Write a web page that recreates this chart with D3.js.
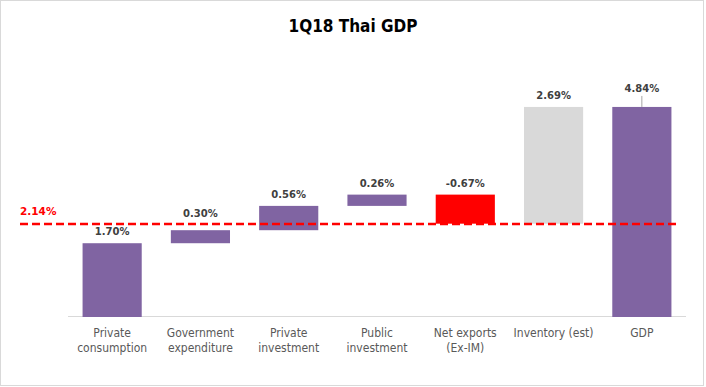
<!DOCTYPE html>
<html>
<head>
<meta charset="utf-8">
<script src="https://cdn.jsdelivr.net/npm/d3@7"></script>
<style>
  body { margin: 0; background: #fff; }
  svg { display: block; }
</style>
</head>
<body>
<div id="chart"></div>
<script>
'use strict';

// Data
var categories = ['Private\nconsumption', 'Government\nexpenditure', 'Private\ninvestment',
  'Public\ninvestment', 'Net exports\n(Ex-IM)', 'Inventory (est)', 'GDP'];
var contributions = [1.70, 0.30, 0.56, 0.26, -0.67, 2.69, 4.84];
var isTotal = [false, false, false, false, false, false, true];
var isEstimate = [false, false, false, false, false, true, false];
var referenceValue = 2.14;
var title = '1Q18 Thai GDP';

var width = 706,
  height = 387,
  font = "'DejaVu Sans Condensed', 'DejaVu Sans', sans-serif",
  labelFont = "'DejaVu Sans', sans-serif";

// Build waterfall steps
var running = 0;
var data = categories.map(function (c, i) {
  var v = contributions[i], start, end;
  if (isTotal[i]) {
    start = 0;
    end = v;
  } else {
    start = running;
    end = running + v;
    running = end;
  }
  return {name: c, value: v, start: start, end: end, total: isTotal[i], est: isEstimate[i]};
});

var svg = d3.select('#chart').append('svg')
  .attr('width', width)
  .attr('height', height);

// Outer frame
svg.append('rect')
  .attr('x', 0.5).attr('y', 0.5)
  .attr('width', width - 3).attr('height', height - 2)
  .style('fill', 'none')
  .style('stroke', '#d9d9d9');

// Scales
var x = d3.scaleBand()
  .domain(categories)
  .range([68, 686])
  .paddingInner(0.33)
  .paddingOuter(0.165);

var y = d3.scaleLinear()
  .domain([0, 5])
  .range([317, 100]);

var yRef = y(referenceValue);

// Title
svg.append('text')
  .attr('x', width / 2)
  .attr('y', 32)
  .attr('text-anchor', 'middle')
  .style('font-family', font)
  .style('font-weight', 'bold')
  .style('font-size', '17px')
  .style('fill', '#000')
  .text(title);

// Baseline
svg.append('line')
  .attr('x1', x.range()[0]).attr('x2', x.range()[1])
  .attr('y1', y(0) - 0.5).attr('y2', y(0) - 0.5)
  .style('stroke', '#d9d9d9');

function barColor(d) {
  if (d.est) { return '#d9d9d9'; }
  if (d.value < 0) { return '#ff0000'; }
  return '#8064a2';
}

// Bars
svg.selectAll('.bar').data(data)
  .enter().append('rect')
  .attr('class', 'bar')
  .attr('x', function (d) { return x(d.name); })
  .attr('width', x.bandwidth())
  .attr('y', function (d) { return y(Math.max(d.start, d.end)); })
  .attr('height', function (d) { return Math.abs(y(d.start) - y(d.end)); })
  .style('fill', barColor);

// Reference line
svg.append('line')
  .attr('x1', 20).attr('x2', 680)
  .attr('y1', yRef).attr('y2', yRef)
  .style('stroke', '#ff0000')
  .style('stroke-width', 2.5)
  .style('stroke-dasharray', '8,4');

svg.append('text')
  .attr('x', 20)
  .attr('y', yRef - 9)
  .style('font-family', labelFont)
  .style('font-weight', 'bold')
  .style('font-size', '10.5px')
  .style('fill', '#ff0000')
  .text(referenceValue.toFixed(2) + '%');

// Leader line for total
svg.selectAll('.leader').data(data.filter(function (d) { return d.total; }))
  .enter().append('line')
  .attr('class', 'leader')
  .attr('x1', function (d) { return x(d.name) + x.bandwidth() / 2; })
  .attr('x2', function (d) { return x(d.name) + x.bandwidth() / 2; })
  .attr('y1', function (d) { return y(d.end); })
  .attr('y2', function (d) { return y(d.end) - 11; })
  .style('stroke', '#a6a6a6')
  .style('stroke-width', 1);

// Value labels (lifted above the reference line when they would cross it)
svg.selectAll('.ann').data(data)
  .enter().append('text')
  .attr('class', 'ann')
  .attr('x', function (d) { return x(d.name) + x.bandwidth() / 2; })
  .attr('y', function (d) {
    var top = y(Math.max(d.start, d.end)), ly;
    if (d.total) { return top - 15; }
    ly = top - 8;
    if (ly - 9 < yRef + 2 && ly + 2 > yRef - 2) {
      ly = yRef - 7;
    }
    return ly;
  })
  .attr('text-anchor', 'middle')
  .style('font-family', labelFont)
  .style('font-weight', 'bold')
  .style('font-size', '10px')
  .style('fill', '#404040')
  .text(function (d) { return d.value.toFixed(2) + '%'; });

// Category labels
var labels = svg.selectAll('.cat').data(categories)
  .enter().append('text')
  .attr('class', 'cat')
  .attr('text-anchor', 'middle')
  .style('font-family', font)
  .style('font-size', '12px')
  .style('fill', '#595959');

labels.selectAll('tspan')
  .data(function (d) { return d.split('\n').map(function (t) { return {cat: d, t: t}; }); })
  .enter().append('tspan')
  .attr('x', function (d) { return x(d.cat) + x.bandwidth() / 2; })
  .attr('y', function (d, i) { return 337 + i * 15; })
  .text(function (d) { return d.t; });
</script>
</body>
</html>
